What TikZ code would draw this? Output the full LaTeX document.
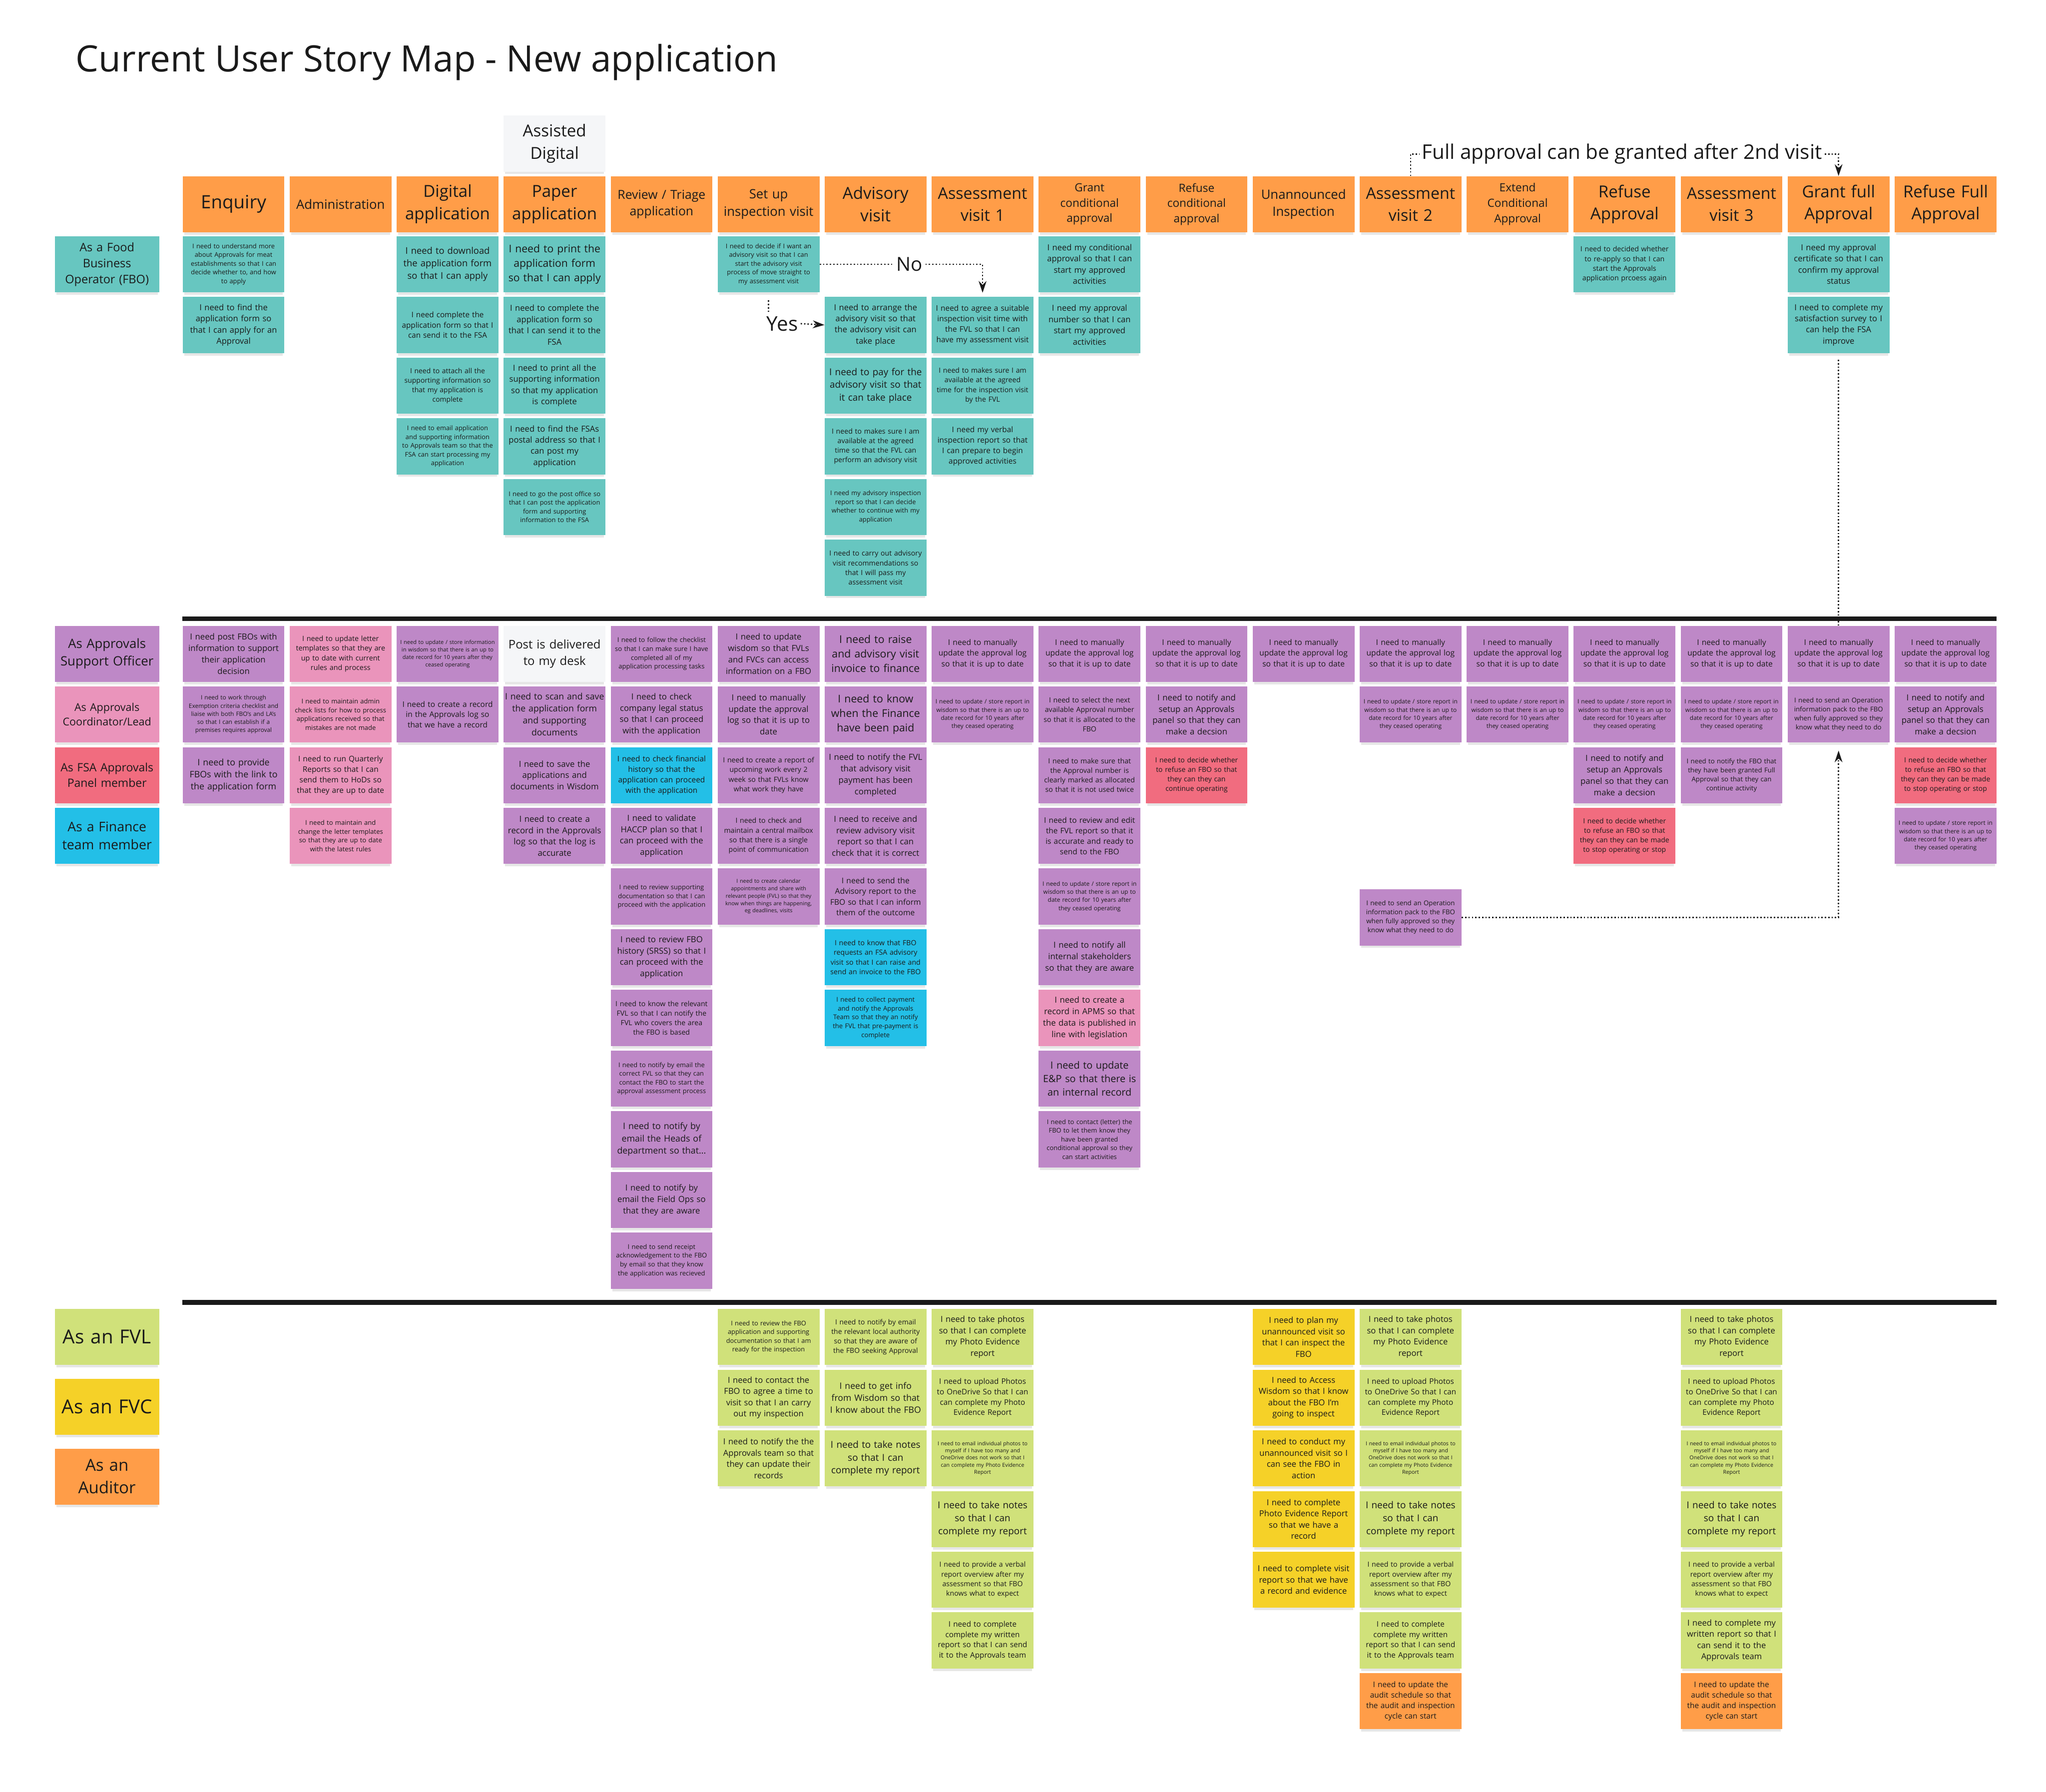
\documentclass[tikz,border=0pt]{standalone}
\usepackage{fontspec}
\setmainfont{Open Sans}
\usepackage{xcolor}
\usetikzlibrary{positioning, arrows.meta, shadows}

\definecolor{ink}{HTML}{1A1A1A}
\definecolor{orng}{HTML}{FF9D48}
\definecolor{tealn}{HTML}{67C6C0}
\definecolor{viol}{HTML}{BE88C7}
\definecolor{pnk}{HTML}{EA94BB}
\definecolor{redn}{HTML}{F16C7F}
\definecolor{blu}{HTML}{23BFE7}
\definecolor{grn}{HTML}{D0E17A}
\definecolor{yel}{HTML}{F5D128}
\definecolor{gry}{HTML}{F5F6F8}

\newcommand{\fs}[1]{\fontsize{#1}{\fpeval{1.36*#1}}\selectfont}
\hyphenpenalty=10000
\exhyphenpenalty=10000

% texts that come back in several columns
\newcommand{\txtLog}{I need to manually\\update the approval log\\so that it is up to date}
\newcommand{\txtStore}{I need to update / store report in\\wisdom so that there is an up to\\date record for 10 years after\\they ceased operating}
\newcommand{\txtPanel}{I need to notify and\\setup an Approvals\\panel so that they can\\make a decsion}
\newcommand{\txtStop}{I need to decide whether\\to refuse an FBO so that\\they can  they can be made\\to stop operating or stop}
\newcommand{\txtPack}{I need to send an Operation\\information pack  to the FBO\\when fully approved so they\\know what they need to do}
\newcommand{\txtPhotos}{I need to take photos\\so that I can complete\\my Photo Evidence\\report}
\newcommand{\txtUpload}{I need to upload Photos\\to OneDrive So that I can\\can complete my Photo\\Evidence Report}
\newcommand{\txtEmail}{I need to email individual photos to\\myself if I have too many and\\OneDrive does not work so that I\\can complete my Photo Evidence\\Report}
\newcommand{\txtNotes}{I need to take notes\\so that I can\\complete my report}
\newcommand{\txtVerbal}{I need to provide a verbal\\report overview after my\\assessment so that FBO\\knows what to expect}
\newcommand{\txtAudit}{I need to update the\\audit schedule so that\\the audit and inspection\\cycle can start}

\begin{document}
\begin{tikzpicture}[
    x=0.5mm, y=-0.5mm,
    node distance=23.25mm and 41mm,
    on grid,
    >={Stealth[length=4.5mm, width=3mm]},
    note/.style={rectangle, minimum width=39mm, minimum height=21.5mm,
      text width=38.5mm, align=center, inner sep=0pt, text=ink, font=\fs{7.2},
      drop shadow={shadow xshift=0mm, shadow yshift=-1.3mm,
        shadow scale=0.97, opacity=0.2}},
    stage/.style={note, fill=orng, font=\fs{18}},
    role/.style={minimum width=40mm, text width=39.5mm},
    fbo/.style={fill=tealn},
    aso/.style={fill=viol},
    lead/.style={fill=pnk},
    panel/.style={fill=redn},
    fin/.style={fill=blu},
    fvl/.style={fill=grn},
    fvc/.style={fill=yel},
    aud/.style={fill=orng},
    greynote/.style={fill=gry},
    lbl/.style={inner sep=1mm, text=ink, font=\fs{21}},
    link/.style={ink, line width=1.5pt, dash pattern=on 1.5pt off 2.2pt},
    rule/.style={ink, line width=1.8mm},
  ]
  \useasboundingbox (0,0) rectangle (1568,1373);

  \node[anchor=base west, inner sep=0pt, text=ink, font=\fs{39.6}] (title) at (58,55)
    {Current User Story Map - New application};

  % stages
  \node[stage, font=\fs{20}] (h1) at (179,156.5) {Enquiry};
  \node[stage, font=\fs{14}, right=of h1] (h2) {Administration};
  \node[stage, right=of h2] (h3) {Digital\\application};
  \node[stage, right=of h3] (h4) {Paper\\application};
  \node[stage, font=\fs{13.5}, right=of h4] (h5) {Review / Triage\\application};
  \node[stage, font=\fs{14}, right=of h5] (h6) {Set up\\inspection visit};
  \node[stage, right=of h6] (h7) {Advisory\\visit};
  \node[stage, font=\fs{17.5}, right=of h7] (h8) {Assessment\\visit 1};
  \node[stage, font=\fs{12.3}, right=of h8] (h9) {Grant\\conditional\\approval};
  \node[stage, font=\fs{12.3}, right=of h9] (h10) {Refuse\\conditional\\approval};
  \node[stage, font=\fs{14}, right=of h10] (h11) {Unannounced\\Inspection};
  \node[stage, font=\fs{17.5}, right=of h11] (h12) {Assessment\\visit 2};
  \node[stage, font=\fs{12.3}, right=of h12] (h13) {Extend\\Conditional\\Approval};
  \node[stage, right=of h13] (h14) {Refuse\\Approval};
  \node[stage, font=\fs{17.5}, right=of h14] (h15) {Assessment\\visit 3};
  \node[stage, right=of h15] (h16) {Grant full\\Approval};
  \node[stage, right=of h16] (h17) {Refuse Full\\Approval};
  \node[note, greynote, font=\fs{18}, above=of h4] (assist) {Assisted\\Digital};

  % roles
  \node[note, role, fbo, font=\fs{12.8}] (rFBO) at (82,202.5) {As a Food\\Business\\Operator (FBO)};
  \node[note, role, aso, font=\fs{14}] (rOfficer) at (82,501) {As Approvals\\Support Officer};
  \node[note, role, lead, font=\fs{11.7}, below=of rOfficer] (rLead) {As Approvals\\Coordinator/Lead};
  \node[note, role, panel, font=\fs{12.5}, below=of rLead] (rPanel) {As FSA Approvals\\Panel member};
  \node[note, role, fin, font=\fs{14.5}, below=of rPanel] (rFinance) {As a Finance\\team member};
  \node[note, role, fvl, font=\fs{21}] (rFVL) at (82,1024.5) {As an FVL};
  \node[note, role, fvc, font=\fs{21}, below=26.75mm of rFVL] (rFVC) {As an FVC};
  \node[note, role, aud, font=\fs{18}, below=26.75mm of rFVC] (rAuditor) {As an\\Auditor};

  % food business operator
  \node[note, fbo, font=\fs{7}] (t1a) at (h1 |- rFBO) {I need to understand more\\about Approvals for meat\\establishments so that I can\\decide whether to, and how\\to apply};
  \node[note, fbo, font=\fs{9}, below=of t1a] (t1b) {I need to find the\\application form so\\that I can apply for an\\Approval};
  \node[note, fbo, font=\fs{10}] (t3a) at (h3 |- rFBO) {I need to download\\the application form\\so that I can apply};
  \node[note, fbo, font=\fs{8.3}, below=of t3a] (t3b) {I need complete the\\application form so that I\\can send it to the FSA};
  \node[note, fbo, font=\fs{7.6}, below=of t3b] (t3c) {I need to attach all the\\supporting information so\\that my application is\\complete};
  \node[note, fbo, font=\fs{7}, below=of t3c] (t3d) {I need to email application\\and supporting information\\to Approvals team so that the\\FSA can start processing my\\application};
  \node[note, fbo, font=\fs{11.5}] (t4a) at (h4 |- rFBO) {I need to print the\\application form\\so that I can apply};
  \node[note, fbo, font=\fs{9}, below=of t4a] (t4b) {I need to complete the\\application form so\\that I can send it to the\\FSA};
  \node[note, fbo, font=\fs{9}, below=of t4b] (t4c) {I need to print all the\\supporting information\\so that my application\\is complete};
  \node[note, fbo, font=\fs{9}, below=of t4c] (t4d) {I need to find the FSAs\\postal address so that I\\can post my\\application};
  \node[note, fbo, font=\fs{7}, below=of t4d] (t4e) {I need to go the post office so\\that I can post the application\\form and supporting\\information to the FSA};
  \node[note, fbo, font=\fs{7}] (t6a) at (h6 |- rFBO) {I need to decide if I want an\\advisory visit so that I can\\start the advisory visit\\process of move straight to\\my assessment visit};
  \node[note, fbo, font=\fs{9}] (t7a) at (h7 |- t1b) {I need to arrange the\\advisory visit so that\\the advisory visit can\\take place};
  \node[note, fbo, font=\fs{10.3}, below=of t7a] (t7b) {I need to pay for the\\advisory visit so that\\it can take place};
  \node[note, fbo, font=\fs{7.7}, below=of t7b] (t7c) {I need to makes sure I am\\available at the agreed\\time so that the FVL can\\perform an advisory visit};
  \node[note, fbo, font=\fs{7}, below=of t7c] (t7d) {I need my advisory inspection\\report so that I can decide\\whether to continue with my\\application};
  \node[note, fbo, font=\fs{7.7}, below=of t7d] (t7e) {I need to carry out advisory\\visit recommendations so\\that I will pass my\\assessment visit};
  \node[note, fbo, font=\fs{8.4}] (t8a) at (h8 |- t1b) {I need to agree a suitable\\inspection visit time with\\the FVL so that I can\\have my assessment visit};
  \node[note, fbo, font=\fs{7.7}, below=of t8a] (t8b) {I need to makes sure I am\\available at the agreed\\time for the inspection visit\\by the FVL};
  \node[note, fbo, font=\fs{8.4}, below=of t8b] (t8c) {I need my verbal\\inspection report so that\\I can prepare to begin\\approved activities};
  \node[note, fbo, font=\fs{9}] (t9a) at (h9 |- rFBO) {I need my conditional\\approval so that I can\\start my approved\\activities};
  \node[note, fbo, font=\fs{9}, below=of t9a] (t9b) {I need my  approval\\number so that I can\\start my approved\\activities};
  \node[note, fbo, font=\fs{7.7}] (t14a) at (h14 |- rFBO) {I need to decided whether\\to re-apply so that I can\\start the Approvals\\application prcoess again};
  \node[note, fbo, font=\fs{9}] (t16a) at (h16 |- rFBO) {I need my approval\\certificate so that I can\\confirm my approval\\status};
  \node[note, fbo, font=\fs{9}, below=of t16a] (t16b) {I need to complete my\\satisfaction survey to I\\can help the FSA\\improve};

  \node[lbl] (no) at (697,202.5) {No};
  \node[lbl, font=\fs{22}] (yes) at (599.5,248) {Yes};
  \node[lbl, font=\fs{22}] (full) at (1243,118) {Full approval can be granted after 2nd visit};

  % approvals team
  \node[note, aso, font=\fs{9.1}] (m1a) at (h1 |- rOfficer) {I need post FBOs with\\information to support\\their application\\decision};
  \node[note, aso, font=\fs{6.5}, below=of m1a] (m1b) {I need to work through\\Exemption criteria checklist and\\liaise with both FBO's and LA's\\so that I can establish if a\\premises requires approval};
  \node[note, aso, font=\fs{9.7}, below=of m1b] (m1c) {I need to provide\\FBOs with the link to\\the application form};
  \node[note, lead, font=\fs{7.8}] (m2a) at (h2 |- rOfficer) {I need to update letter\\templates so that they are\\up to date with current\\rules and process};
  \node[note, lead, font=\fs{7.1}, below=of m2a] (m2b) {I need to maintain admin\\check lists for how to process\\applications received so that\\mistakes are not made};
  \node[note, lead, font=\fs{8.4}, below=of m2b] (m2c) {I need to run Quarterly\\Reports so that I can\\send them to HoDs so\\that they are up to date};
  \node[note, lead, font=\fs{7.1}, below=of m2c] (m2d) {I need to maintain and\\change the letter templates\\so that they are up to date\\with the latest rules};
  \node[note, aso, font=\fs{6}] (m3a) at (h3 |- rOfficer) {I need to update / store information\\in wisdom so that there is an up to\\date record for 10 years after they\\ceased operating};
  \node[note, aso, font=\fs{8.4}, below=of m3a] (m3b) {I need to create a record\\in the Approvals log so\\that we have a record};
  \node[note, greynote, font=\fs{13}] (m4a) at (h4 |- rOfficer) {Post is delivered\\to my desk};
  \node[note, aso, font=\fs{9.6}, below=of m4a] (m4b) {I need to scan and save\\the application form\\and supporting\\documents};
  \node[note, aso, font=\fs{9.1}, below=of m4b] (m4c) {I need to save the\\applications and\\documents in Wisdom};
  \node[note, aso, font=\fs{9.2}, below=of m4c] (m4d) {I need to create a\\record in the Approvals\\log so that the log is\\accurate};
  \node[note, aso, font=\fs{7.1}] (m5a) at (h5 |- rOfficer) {I need to follow the checklist\\so that I can make sure I have\\completed all of my\\application processing tasks};
  \node[note, aso, font=\fs{9.1}, below=of m5a] (m5b) {I need to check\\company legal status\\so that I can proceed\\with the application};
  \node[note, fin, font=\fs{8.4}, below=of m5b] (m5c) {I need to check financial\\history so that the\\application can proceed\\with the application};
  \node[note, aso, font=\fs{9.1}, below=of m5c] (m5d) {I need to validate\\HACCP plan so that I\\can proceed with the\\application};
  \node[note, aso, font=\fs{7.1}, below=of m5d] (m5e) {I need to review supporting\\documentation so that I can\\proceed with the application};
  \node[note, aso, font=\fs{9.1}, below=of m5e] (m5f) {I need to review FBO\\history (SRSS) so that I\\can proceed with the\\application};
  \node[note, aso, font=\fs{7.7}, below=of m5f] (m5g) {I need to know the relevant\\FVL so that I can notify the\\FVL who covers the area\\the FBO is based};
  \node[note, aso, font=\fs{7}, below=of m5g] (m5h) {I need to notify by email the\\correct FVL so that they can\\contact the FBO to start the\\approval assessment process};
  \node[note, aso, font=\fs{9.7}, below=of m5h] (m5i) {I need to notify by\\email the Heads of\\department so that...};
  \node[note, aso, font=\fs{9.1}, below=of m5i] (m5j) {I need to notify by\\email the Field Ops so\\that they are aware};
  \node[note, aso, font=\fs{7.1}, below=of m5j] (m5k) {I need to send receipt\\acknowledgement to the FBO\\by email so that they know\\the application was recieved};
  \node[note, aso, font=\fs{9.1}] (m6a) at (h6 |- rOfficer) {I need to update\\wisdom so that FVLs\\and FVCs can access\\information on a FBO};
  \node[note, aso, font=\fs{9.1}, below=of m6a] (m6b) {I need to manually\\update the approval\\log so that it is up to\\date};
  \node[note, aso, font=\fs{7.7}, below=of m6b] (m6c) {I need to create a report of\\upcoming work every 2\\week so that FVLs know\\what work they have};
  \node[note, aso, font=\fs{7.7}, below=of m6c] (m6d) {I need to check and\\maintain a central mailbox\\so that there is a single\\point of communication};
  \node[note, aso, font=\fs{5.9}, below=of m6d] (m6e) {I need to create calendar\\appointments and share with\\relevant people (FVL) so that they\\know when things are happening,\\eg deadlines, visits};
  \node[note, aso, font=\fs{11.6}] (m7a) at (h7 |- rOfficer) {I need to raise\\and advisory visit\\invoice to finance};
  \node[note, aso, font=\fs{11.6}, below=of m7a] (m7b) {I need to know\\when the Finance\\have been paid};
  \node[note, aso, font=\fs{9.2}, below=of m7b] (m7c) {I need to notify the FVL\\that advisory visit\\payment has been\\completed};
  \node[note, aso, font=\fs{9.1}, below=of m7c] (m7d) {I need to receive and\\review advisory visit\\report so that I can\\check that it is correct};
  \node[note, aso, font=\fs{8.5}, below=of m7d] (m7e) {I need to send the\\Advisory report to the\\FBO so that I can inform\\them of the outcome};
  \node[note, fin, font=\fs{7.7}, below=of m7e] (m7f) {I need to know that FBO\\requests an FSA advisory\\visit so that I can  raise and\\send an invoice to the FBO};
  \node[note, fin, font=\fs{7.1}, below=of m7f] (m7g) {I need to collect  payment\\and notify the Approvals\\Team so that they an notify\\the FVL that pre-payment is\\complete};
  \node[note, aso, font=\fs{8.5}] (m8a) at (h8 |- rOfficer) {\txtLog};
  \node[note, aso, font=\fs{6.5}, below=of m8a] (m8b) {\txtStore};
  \node[note, aso, font=\fs{8.5}] (m9a) at (h9 |- rOfficer) {\txtLog};
  \node[note, aso, font=\fs{7.7}, below=of m9a] (m9b) {I need to select the next\\available Approval number\\so that it is allocated to the\\FBO};
  \node[note, aso, font=\fs{7.7}, below=of m9b] (m9c) {I need to make sure that\\the Approval number is\\clearly marked as allocated\\so that it is not used twice};
  \node[note, aso, font=\fs{8.4}, below=of m9c] (m9d) {I need to review and edit\\the FVL report so that it\\is accurate and ready to\\send to the FBO};
  \node[note, aso, font=\fs{6.5}, below=of m9d] (m9e) {\txtStore};
  \node[note, aso, font=\fs{9.1}, below=of m9e] (m9f) {I need to notify all\\internal stakeholders\\so that they are aware};
  \node[note, lead, font=\fs{9.1}, below=of m9f] (m9g) {I need to create a\\record in APMS so that\\the data is published in\\line with legislation};
  \node[note, aso, font=\fs{10.8}, below=of m9g] (m9h) {I need to update\\E\&P so that there is\\an internal record};
  \node[note, aso, font=\fs{7}, below=of m9h] (m9i) {I need to contact (letter) the\\FBO to let them know they\\have been granted\\conditional approval so they\\can start activities};
  \node[note, aso, font=\fs{8.5}] (m10a) at (h10 |- rOfficer) {\txtLog};
  \node[note, aso, font=\fs{9.1}, below=of m10a] (m10b) {\txtPanel};
  \node[note, panel, font=\fs{7.6}, below=of m10b] (m10c) {I need to decide whether\\to refuse an FBO so that\\they can  they can\\continue operating};
  \node[note, aso, font=\fs{8.5}] (m11a) at (h11 |- rOfficer) {\txtLog};
  \node[note, aso, font=\fs{8.5}] (m12a) at (h12 |- rOfficer) {\txtLog};
  \node[note, aso, font=\fs{6.5}, below=of m12a] (m12b) {\txtStore};
  \node[note, aso, font=\fs{7.2}] (m12c) at (h12 |- 0,703) {\txtPack};
  \node[note, aso, font=\fs{8.5}] (m13a) at (h13 |- rOfficer) {\txtLog};
  \node[note, aso, font=\fs{6.5}, below=of m13a] (m13b) {\txtStore};
  \node[note, aso, font=\fs{8.5}] (m14a) at (h14 |- rOfficer) {\txtLog};
  \node[note, aso, font=\fs{6.5}, below=of m14a] (m14b) {\txtStore};
  \node[note, aso, font=\fs{9.1}, below=of m14b] (m14c) {\txtPanel};
  \node[note, panel, font=\fs{7.6}, below=of m14c] (m14d) {\txtStop};
  \node[note, aso, font=\fs{8.5}] (m15a) at (h15 |- rOfficer) {\txtLog};
  \node[note, aso, font=\fs{6.5}, below=of m15a] (m15b) {\txtStore};
  \node[note, aso, font=\fs{7.2}, below=of m15b] (m15c) {I need to notify the FBO that\\they have been granted Full\\Approval so that they can\\continue activity};
  \node[note, aso, font=\fs{8.5}] (m16a) at (h16 |- rOfficer) {\txtLog};
  \node[note, aso, font=\fs{7.2}, below=of m16a] (m16b) {\txtPack};
  \node[note, aso, font=\fs{8.5}] (m17a) at (h17 |- rOfficer) {\txtLog};
  \node[note, aso, font=\fs{9.1}, below=of m17a] (m17b) {\txtPanel};
  \node[note, panel, font=\fs{7.6}, below=of m17b] (m17c) {\txtStop};
  \node[note, aso, font=\fs{6.5}, below=of m17c] (m17d) {\txtStore};

  % field staff
  \node[note, fvl, font=\fs{7}] (b6a) at (h6 |- rFVL) {I need to review the FBO\\application and supporting\\documentation so that I am\\ready for the inspection};
  \node[note, fvl, font=\fs{9}, below=of b6a] (b6b) {I need to contact  the\\FBO to agree a time to\\visit so that I an carry\\out my inspection};
  \node[note, fvl, font=\fs{9}, below=of b6b] (b6c) {I need to notify the the\\Approvals team so that\\they can update their\\records};
  \node[note, fvl, font=\fs{7.6}] (b7a) at (h7 |- rFVL) {I need to notify by email\\the relevant local authority\\so that they are aware of\\the FBO seeking Approval};
  \node[note, fvl, font=\fs{9.6}, below=of b7a] (b7b) {I need to get info\\from Wisdom so that\\I know about the FBO};
  \node[note, fvl, font=\fs{10.3}, below=of b7b] (b7c) {\txtNotes};
  \node[note, fvl, font=\fs{9}] (b8a) at (h8 |- rFVL) {\txtPhotos};
  \node[note, fvl, font=\fs{8.3}, below=of b8a] (b8b) {\txtUpload};
  \node[note, fvl, font=\fs{5.8}, below=of b8b] (b8c) {\txtEmail};
  \node[note, fvl, font=\fs{10.3}, below=of b8c] (b8d) {\txtNotes};
  \node[note, fvl, font=\fs{7.7}, below=of b8d] (b8e) {\txtVerbal};
  \node[note, fvl, font=\fs{8.3}, below=of b8e] (b8f) {I need to complete\\complete my  written\\report so that I can send\\it to the Approvals team};
  \node[note, fvc, font=\fs{9}] (b11a) at (h11 |- rFVL) {I need to plan my\\unannounced visit so\\that I can inspect the\\FBO};
  \node[note, fvc, font=\fs{9}, below=of b11a] (b11b) {I need to Access\\Wisdom so that I know\\about the FBO I'm\\going to inspect};
  \node[note, fvc, font=\fs{9}, below=of b11b] (b11c) {I need to conduct  my\\unannounced visit so I\\can see the FBO in\\action};
  \node[note, fvc, font=\fs{9}, below=of b11c] (b11d) {I need to complete\\Photo Evidence Report\\so that we have a\\record};
  \node[note, fvc, font=\fs{9}, below=of b11d] (b11e) {I need to complete visit\\report so that we have\\a record and evidence};
  \node[note, fvl, font=\fs{9}] (b12a) at (h12 |- rFVL) {\txtPhotos};
  \node[note, fvl, font=\fs{8.3}, below=of b12a] (b12b) {\txtUpload};
  \node[note, fvl, font=\fs{5.8}, below=of b12b] (b12c) {\txtEmail};
  \node[note, fvl, font=\fs{10.3}, below=of b12c] (b12d) {\txtNotes};
  \node[note, fvl, font=\fs{7.7}, below=of b12d] (b12e) {\txtVerbal};
  \node[note, fvl, font=\fs{8.3}, below=of b12e] (b12f) {I need to complete\\complete my  written\\report so that I can send\\it to the Approvals team};
  \node[note, aud, font=\fs{8.4}, below=of b12f] (b12g) {\txtAudit};
  \node[note, fvl, font=\fs{9}] (b15a) at (h15 |- rFVL) {\txtPhotos};
  \node[note, fvl, font=\fs{8.3}, below=of b15a] (b15b) {\txtUpload};
  \node[note, fvl, font=\fs{5.8}, below=of b15b] (b15c) {\txtEmail};
  \node[note, fvl, font=\fs{10.3}, below=of b15c] (b15d) {\txtNotes};
  \node[note, fvl, font=\fs{7.7}, below=of b15d] (b15e) {\txtVerbal};
  \node[note, fvl, font=\fs{9}, below=of b15e] (b15f) {I need to  complete my\\written report so that I\\can send it to the\\Approvals team};
  \node[note, aud, font=\fs{8.4}, below=of b15f] (b15g) {\txtAudit};

  % section rules
  \draw[rule] (h1.west |- 0,474) -- (h17.east |- 0,474);
  \draw[rule] (h1.west |- 0,998) -- (h17.east |- 0,998);

  % decisions
  \draw[link] (t6a.east) -- (no.west);
  \draw[link, ->, shorten >=1.5mm] (no.east) -| (t8a.north);
  \draw[link] ([yshift=-3mm]t6a.south) -- (t6a.south |- yes.north);
  \draw[link, ->] (yes.east) -- (t7a.west);
  \draw[link] (h12.north) |- (full.west);
  \draw[link, ->] (full.east) -| (h16.north);
  \draw[link] ([yshift=-2.5mm]t16b.south) -- (m16a.north);
  \draw[link, ->, shorten >=3mm] (m12c.east) -| (m16b.south);
\end{tikzpicture}
\end{document}
